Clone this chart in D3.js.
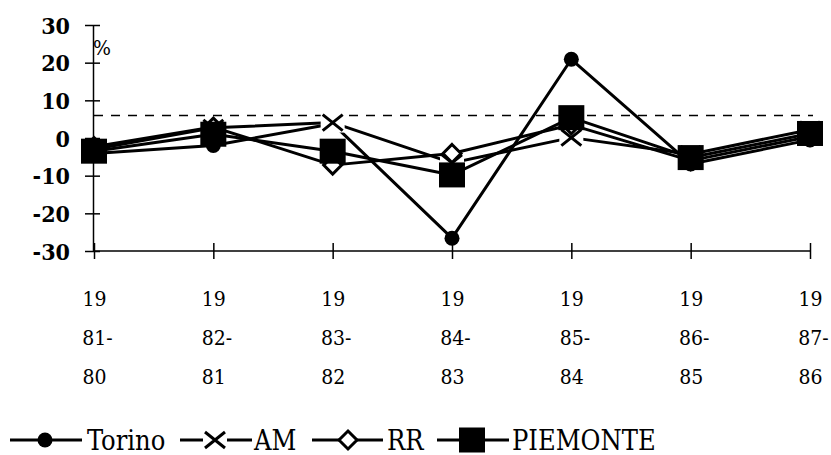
<!DOCTYPE html>
<html>
<head>
<meta charset="utf-8">
<script src="https://cdn.jsdelivr.net/npm/d3@7"></script>
<style>
  html, body { margin: 0; padding: 0; background: #fff; }
  svg { display: block; }
</style>
</head>
<body>
<svg id="chart" width="831" height="455"></svg>
<script>
// ---- data ----
const categories = ["1981-80", "1982-81", "1983-82", "1984-83", "1985-84", "1986-85", "1987-86"];
const torino   = [-4.1, -2.0, 3.8, -26.6, 20.9, -6.9, -0.5];
const am       = [-3.0, 2.7, 4.1, -6.6, 0.1, -4.3, 2.2];
const rr       = [-2.3, 2.9, -7.2, -4.1, 3.5, -6.0, 0.4];
const piemonte = [-3.5, 1.0, -3.5, -9.8, 5.4, -5.2, 1.2];
const seriesNames = ["Torino", "AM", "RR", "PIEMONTE"];
const yTicks = [-30, -20, -10, 0, 10, 20, 30];
const refValue = 6;
const unitLabel = "%";

const seriesData = [torino, am, rr, piemonte];
const markerTypes = ["circle", "x", "diamond", "square"];

const svg = d3.select("#chart");
const x = d3.scalePoint().domain(categories).range([94, 810]);
const y = d3.scaleLinear().domain([-30, 30]).range([251, 25]);

const serif = '"DejaVu Serif Condensed", "DejaVu Serif", serif';

// reference dashed line
svg.append("line")
  .attr("x1", x(categories[0])).attr("x2", 813)
  .attr("y1", y(refValue)).attr("y2", y(refValue))
  .attr("stroke", "#000").attr("stroke-width", 1.5)
  .attr("stroke-dasharray", "9,8");

// y axis
const yAxis = d3.axisLeft(y).tickValues(yTicks).tickSize(0).tickFormat(d => String(d));
const gy = svg.append("g").attr("transform", `translate(93,0)`).call(yAxis);
gy.attr("font-family", null).attr("font-size", null);
gy.select(".domain").attr("stroke", "#000").attr("stroke-width", 1.5);
gy.selectAll(".tick text")
  .attr("x", -23)
  .attr("dy", "0.36em")
  .style("font-family", serif)
  .style("font-stretch", "condensed")
  .style("font-weight", "bold")
  .style("font-size", "23px")
  .attr("fill", "#000");
gy.selectAll(".tick").append("line")
  .attr("x1", -8).attr("x2", 7).attr("y1", 0).attr("y2", 0)
  .attr("stroke", "#000").attr("stroke-width", 1.5);

// x axis
const xAxis = d3.axisBottom(x).tickSize(0).tickFormat("");
const gx = svg.append("g").attr("transform", `translate(0,${y(-30)})`).call(xAxis);
gx.attr("font-family", null).attr("font-size", null);
gx.select(".domain").attr("d", `M93,0H810`).attr("stroke", "#000").attr("stroke-width", 1.5);
gx.selectAll(".tick").append("line")
  .attr("x1", 0).attr("x2", 0).attr("y1", -8).attr("y2", 8)
  .attr("stroke", "#000").attr("stroke-width", 1.5);
gx.selectAll(".tick").each(function(d) {
  const parts = [d.slice(0, 2), d.slice(2, 5), d.slice(5)];
  const g = d3.select(this);
  parts.forEach((p, i) => {
    g.append("text")
      .attr("x", i === 1 ? 3 : 0)
      .attr("y", 55 + i * 39)
      .attr("text-anchor", "middle")
      .style("font-family", serif)
      .style("font-stretch", "condensed")
      .style("font-size", "21px")
      .attr("fill", "#000")
      .text(p);
  });
});

// unit label
svg.append("text")
  .attr("x", 93).attr("y", 55)
  .style("font-family", serif)
  .style("font-stretch", "condensed")
  .style("font-size", "21px")
  .attr("fill", "#000")
  .text(unitLabel);

// markers
function drawMarker(g, type, cx, cy) {
  if (type === "circle") {
    g.append("circle").attr("cx", cx).attr("cy", cy).attr("r", 7.5).attr("fill", "#000");
  } else if (type === "x") {
    g.append("rect").attr("x", cx - 12).attr("y", cy - 10).attr("width", 24).attr("height", 20).attr("fill", "#fff");
    g.append("path")
      .attr("d", `M${cx-10},${cy-8}L${cx+10},${cy+8}M${cx-10},${cy+8}L${cx+10},${cy-8}`)
      .attr("stroke", "#000").attr("stroke-width", 3).attr("fill", "none");
  } else if (type === "diamond") {
    g.append("path")
      .attr("d", `M${cx},${cy-9}L${cx+9},${cy}L${cx},${cy+9}L${cx-9},${cy}Z`)
      .attr("stroke", "#000").attr("stroke-width", 3).attr("fill", "#fff");
  } else if (type === "square") {
    g.append("rect").attr("x", cx - 13).attr("y", cy - 12.5).attr("width", 26).attr("height", 25).attr("fill", "#000");
  }
}

const line = d3.line().x((d, i) => x(categories[i])).y(d => y(d));

seriesData.forEach((vals, si) => {
  const g = svg.append("g");
  g.append("path").datum(vals).attr("d", line)
    .attr("fill", "none").attr("stroke", "#000").attr("stroke-width", 3)
    .attr("stroke-linejoin", "round");
  vals.forEach((v, i) => drawMarker(g, markerTypes[si], x(categories[i]), y(v)));
});

// legend
const legendY = 440;
const legendItems = [
  { x0: 10, x1: 82, m: 45, t: 87 },
  { x0: 180, x1: 252, m: 215, t: 254 },
  { x0: 312, x1: 383, m: 348, t: 387 },
  { x0: 437, x1: 509, m: 472, t: 512 }
];
seriesNames.forEach((name, si) => {
  const it = legendItems[si];
  const g = svg.append("g");
  g.append("line").attr("x1", it.x0).attr("x2", it.x1).attr("y1", legendY).attr("y2", legendY)
    .attr("stroke", "#000").attr("stroke-width", 3);
  drawMarker(g, markerTypes[si], it.m, legendY);
  g.append("text").attr("x", it.t).attr("y", legendY + 9.5)
    .style("font-family", serif).style("font-stretch", "condensed")
    .style("font-size", "27px").attr("fill", "#000")
    .text(name);
});
</script>
</body>
</html>
